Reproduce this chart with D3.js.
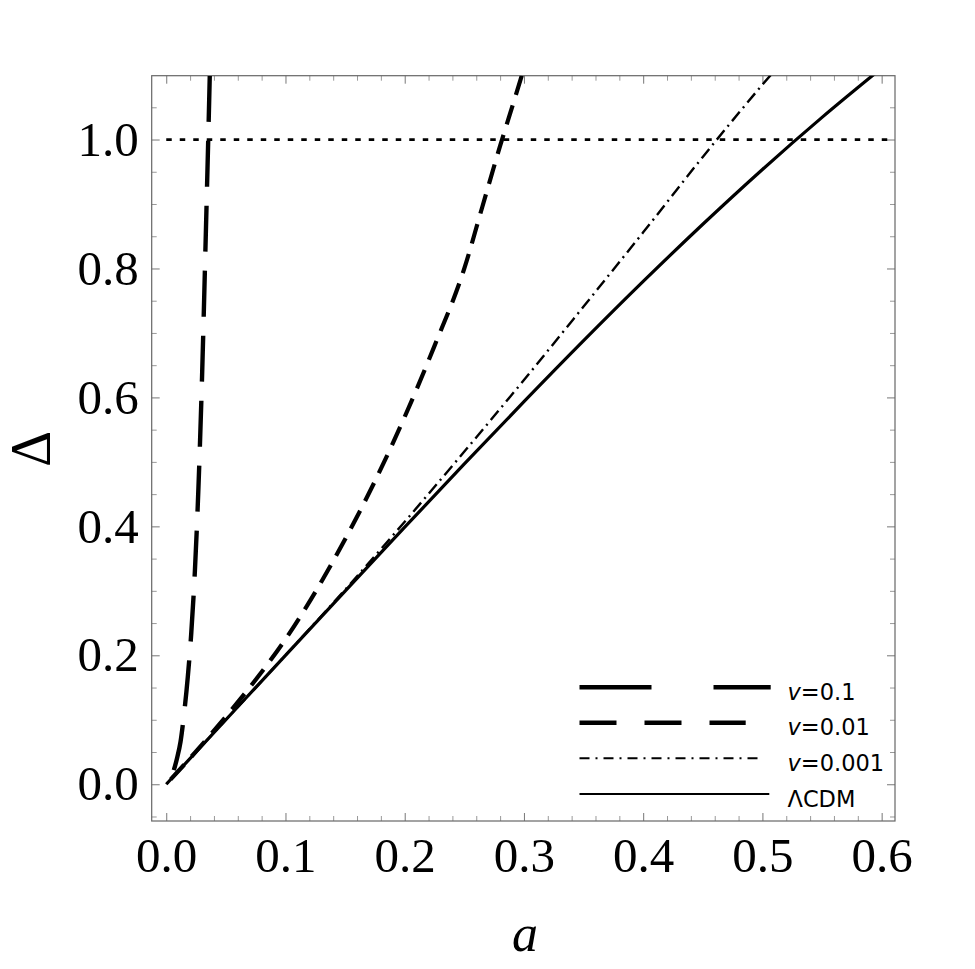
<!DOCTYPE html>
<html>
<head>
<meta charset="utf-8">
<script src="https://cdn.jsdelivr.net/npm/d3@7"></script>
<style>
  body { margin: 0; background: #fff; }
  .tick text { font-family: "Liberation Serif", "Times New Roman", serif; font-size: 49px; fill: #000; }
</style>
</head>
<body>
<div id="chart"></div>
<script>
// values
const aLCDM     = [0, 0.05, 0.10, 0.15, 0.20, 0.25, 0.30, 0.35, 0.40, 0.45, 0.50, 0.55, 0.60];
const dLCDM     = [0, 0.100, 0.200, 0.2996, 0.3987, 0.4968, 0.5934, 0.688, 0.7799, 0.8686, 0.9536, 1.0344, 1.1108];

const aV0001    = [0, 0.05, 0.10, 0.15, 0.20, 0.25, 0.30, 0.35, 0.40, 0.45, 0.50, 0.52];
const dV0001    = [0, 0.100, 0.200, 0.3017, 0.4072, 0.516, 0.627, 0.741, 0.856, 0.973, 1.085, 1.128];

const aV001     = [0, 0.025, 0.05, 0.075, 0.10, 0.125, 0.15, 0.175, 0.20, 0.225, 0.25, 0.265, 0.28, 0.29, 0.30];
const dV001     = [0, 0.051, 0.105, 0.162, 0.225, 0.298, 0.38, 0.47, 0.57, 0.68, 0.80, 0.895, 0.99, 1.05, 1.11];

const aV01      = [0, 0.003, 0.006, 0.009, 0.012, 0.015, 0.018, 0.021, 0.024, 0.027, 0.030, 0.033, 0.036, 0.038];
const dV01      = [0, 0.007, 0.02, 0.04, 0.066, 0.11, 0.165, 0.235, 0.33, 0.46, 0.63, 0.84, 1.06, 1.22];

const xMajor = [0, 0.1, 0.2, 0.3, 0.4, 0.5, 0.6];
const yMajor = [0, 0.2, 0.4, 0.6, 0.8, 1.0];
const legendLabels = [["v", "=0.1"], ["v", "=0.01"], ["v", "=0.001"], ["", "\u039BCDM"]];

const width = 975, height = 969;
const svg = d3.select("#chart").append("svg")
    .attr("width", width)
    .attr("height", height);

const pLeft = 151.7, pRight = 895, pTop = 75.7, pBottom = 821;

const x = d3.scaleLinear().domain([-0.0122, 0.6112]).range([pLeft, pRight]);
const y = d3.scaleLinear().domain([-0.057, 1.099]).range([pBottom, pTop]);

const xMinor = d3.range(0, 0.6101, 0.02).filter(v => Math.abs(v * 10 - Math.round(v * 10)) > 1e-6);
const yMinor = d3.range(-0.05, 1.0951, 0.05).filter(v => Math.abs(v * 5 - Math.round(v * 5)) > 1e-6);

function styleAxis(g, col) {
    g.select(".domain").remove();
    g.selectAll(".tick line").attr("stroke", col).attr("stroke-width", 1);
}

// bottom
svg.append("g").attr("transform", "translate(0," + pBottom + ")")
    .call(d3.axisBottom(x).tickValues(xMajor).tickSize(-8).tickPadding(16).tickFormat(d3.format(".1f")))
    .call(g => styleAxis(g, "#777"));
svg.append("g").attr("transform", "translate(0," + pBottom + ")")
    .call(d3.axisBottom(x).tickValues(xMinor).tickSize(-5).tickFormat(""))
    .call(g => styleAxis(g, "#999"));
// top
svg.append("g").attr("transform", "translate(0," + pTop + ")")
    .call(d3.axisTop(x).tickValues(xMajor).tickSize(-8).tickFormat(""))
    .call(g => styleAxis(g, "#777"));
svg.append("g").attr("transform", "translate(0," + pTop + ")")
    .call(d3.axisTop(x).tickValues(xMinor).tickSize(-5).tickFormat(""))
    .call(g => styleAxis(g, "#999"));
// left
svg.append("g").attr("transform", "translate(" + pLeft + ",0)")
    .call(d3.axisLeft(y).tickValues(yMajor).tickSize(-8).tickPadding(13).tickFormat(d3.format(".1f")))
    .call(g => styleAxis(g, "#777"));
svg.append("g").attr("transform", "translate(" + pLeft + ",0)")
    .call(d3.axisLeft(y).tickValues(yMinor).tickSize(-5).tickFormat(""))
    .call(g => styleAxis(g, "#999"));
// right
svg.append("g").attr("transform", "translate(" + pRight + ",0)")
    .call(d3.axisRight(y).tickValues(yMajor).tickSize(-8).tickFormat(""))
    .call(g => styleAxis(g, "#777"));
svg.append("g").attr("transform", "translate(" + pRight + ",0)")
    .call(d3.axisRight(y).tickValues(yMinor).tickSize(-5).tickFormat(""))
    .call(g => styleAxis(g, "#999"));

// frame
svg.append("rect")
    .attr("x", pLeft).attr("y", pTop)
    .attr("width", pRight - pLeft).attr("height", pBottom - pTop)
    .attr("fill", "none").attr("stroke", "#666").attr("stroke-width", 1.2);

svg.append("clipPath").attr("id", "clip")
  .append("rect")
    .attr("x", pLeft).attr("y", pTop)
    .attr("width", pRight - pLeft).attr("height", pBottom - pTop);

const plot = svg.append("g").attr("clip-path", "url(#clip)");

// Delta = 1 reference
plot.append("line")
    .attr("x1", x(0)).attr("x2", pRight)
    .attr("y1", y(1)).attr("y2", y(1))
    .attr("stroke", "#000").attr("stroke-width", 2.8)
    .attr("stroke-dasharray", "5.5,8");

const line = d3.line()
    .x(d => x(d[0]))
    .y(d => y(d[1]))
    .curve(d3.curveMonotoneX);

const series = [
    {a: aLCDM, d: dLCDM, w: 3.2, dash: null},
    {a: aV0001, d: dV0001, w: 2.4, dash: "12,5,2,5"},
    {a: aV001, d: dV001, w: 4.2, dash: "20,11", alignTop: true},
    {a: aV01, d: dV01, w: 4.4, dash: "46,19", alignTop: true}
];

series.forEach(s => {
    // drawn from the top end down, so the dash pattern starts at the frame
    let pts = s.a.map((v, i) => [v, s.d[i]]).reverse();
    let path = plot.append("path")
        .attr("d", line(pts))
        .attr("fill", "none")
        .attr("stroke", "#000")
        .attr("stroke-width", s.w)
        .attr("stroke-dasharray", s.dash);
    if (s.alignTop) {
        let node = path.node();
        let lo = 0, hi = node.getTotalLength();
        for (let k = 0; k < 40; k++) {
            let mid = (lo + hi) / 2;
            if (node.getPointAtLength(mid).y < pTop) lo = mid; else hi = mid;
        }
        path.attr("stroke-dashoffset", -lo);
    }
});

// legend
const legendStyles = [
    {y: 687.3, w: 4.6, dash: "72,62", x2: 770.7},
    {y: 722.7, w: 4.6, dash: "37,28", x2: 745.7},
    {y: 758.3, w: 1.9, dash: "10,6,2,6", x2: 761.7},
    {y: 794, w: 2.2, dash: null, x2: 769.3}
];
const legend = svg.append("g");
legendStyles.forEach((s, i) => {
    legend.append("line")
        .attr("x1", 579.5).attr("x2", s.x2)
        .attr("y1", s.y).attr("y2", s.y)
        .attr("stroke", "#000").attr("stroke-width", s.w)
        .attr("stroke-dasharray", s.dash);
    let t = legend.append("text")
        .attr("x", 787.5).attr("y", s.y + 12.5)
        .attr("font-family", "DejaVu Sans, Verdana, sans-serif")
        .attr("font-size", 22.5);
    if (legendLabels[i][0]) {
        t.append("tspan").attr("font-style", "italic").text(legendLabels[i][0]);
    }
    t.append("tspan").text(legendLabels[i][1]);
});

// axis titles
svg.append("text")
    .attr("transform", "translate(50,449) rotate(-90)")
    .attr("text-anchor", "middle")
    .attr("font-family", "Liberation Serif, Times New Roman, serif")
    .attr("font-size", 56)
    .text("\u0394");

svg.append("text")
    .attr("x", 525).attr("y", 951)
    .attr("text-anchor", "middle")
    .attr("font-family", "Liberation Serif, Times New Roman, serif")
    .attr("font-style", "italic")
    .attr("font-size", 52)
    .text("a");
</script>
</body>
</html>
